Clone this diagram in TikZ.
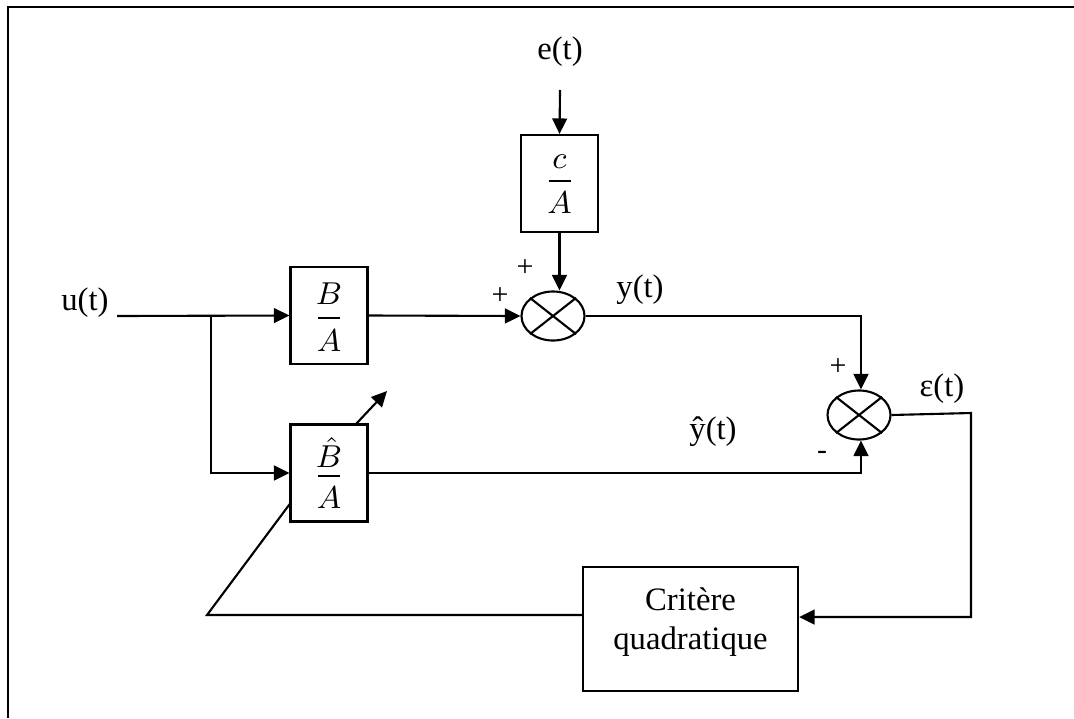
\documentclass[tikz,border=0pt]{standalone}
\usepackage{fontspec}
\setmainfont{Liberation Serif}
\usetikzlibrary{arrows.meta,shapes.geometric}
\begin{document}
\begin{tikzpicture}[x=0.01cm,y=-0.01cm,
  lw/.style={line width=0.6pt},
  arr/.style={lw,-{Triangle[length=4.4pt,width=4.2pt]}},
  blk/.style={draw,lw,rectangle,minimum width=0.77cm,minimum height=0.97cm,inner sep=0pt},
  sumn/.style={draw,lw,ellipse,minimum width=0.63cm,minimum height=0.49cm,inner sep=0pt},
  lbl/.style={font=\fontsize{9.3}{11.1}\selectfont,inner sep=0pt},
  ml/.style={font=\fontsize{9}{10}\selectfont,inner sep=0pt},
  sg/.style={font=\fontsize{8.5}{10}\selectfont,inner sep=0pt}]
\useasboundingbox (0,0) rectangle (1074,718);
\draw[line width=0.85pt] (8,718) -- (8,7) -- (1074,7);

% blocks
\node[blk] (CA) at (559.5,183.5) {};
\node[blk] (BA) at (329,315.5) {};
\node[blk] (BH) at (329,473) {};
\node[draw,lw,minimum width=2.15cm,minimum height=1.24cm,inner sep=0pt] (crit) at (690.5,629) {};
\node[sumn] (s1) at (553,316) {};
\node[sumn] (s2) at (859,415) {};
\draw[lw] (s1.north west) -- (s1.south east) (s1.north east) -- (s1.south west);
\draw[lw] (s2.north west) -- (s2.south east) (s2.north east) -- (s2.south west);

% fractions
\node[ml] (cn) at (559.5,162) {$c$};
\draw[lw] (548.5,181) -- (570.5,181);
\node[ml] (cd) at (559.5,203) {$A$};
\node[ml] (bn) at (329,294) {$B$};
\draw[lw] (318,318) -- (340,318);
\node[ml] (bd) at (329,341) {$A$};
\node[ml] (hn) at (329,452) {$\hat{B}$};
\draw[lw] (318,476) -- (340,476);
\node[ml] (hd) at (329,498) {$A$};

% labels
\node[lbl] (et) at (560,52) {e(t)};
\node[lbl] (ut) at (85,303) {u(t)};
\node[lbl] (yt) at (640,290) {y(t)};
\node[lbl] (yh) at (713,432) {ŷ(t)};
\node[lbl] (eps) at (942,389) {ε(t)};
\node[lbl,align=center] (critl) at (690.5,622) {Critère\\quadratique};
\node[sg] (p1) at (500,296) {+};
\node[sg] (p2) at (525,268) {+};
\node[sg] (p3) at (838,367) {+};
\node[sg] (m1) at (822,455) {-};

% connectors
\coordinate (etop) at (560,90);
\draw[arr] (etop) -- (CA.north);
\draw[arr] (CA.south) -- (CA.south |- s1.north);
\coordinate (ustart) at (117,316);
\coordinate (br) at (211,316);
\draw[arr] (ustart) -- (BA.west);
\draw[arr] (br) -- (br |- BH.west) -- (BH.west);
\draw[arr] (BA.east) -- (s1.west);
\coordinate (yc) at (861,316);
\draw[arr] (s1.east) -- (yc) -- (yc |- s2.north);
\coordinate (yhc) at (861,473);
\draw[arr] (BH.east) -- (yhc) -- (yhc |- s2.south);
\coordinate (c1) at (971,413);
\coordinate (c2) at (971,617);
\draw[arr] (s2.east) -- (c1) -- (c2) -- (c2 -| crit.east);
\coordinate (fb1) at (207,615);
\coordinate (fb2) at (290.5,503);
\draw[lw] (crit.west |- fb1) -- (fb1) -- (fb2);
\coordinate (adj0) at (356,424);
\coordinate (adj1) at (387,391);
\draw[arr] (adj0) -- (adj1);
\end{tikzpicture}
\end{document}
